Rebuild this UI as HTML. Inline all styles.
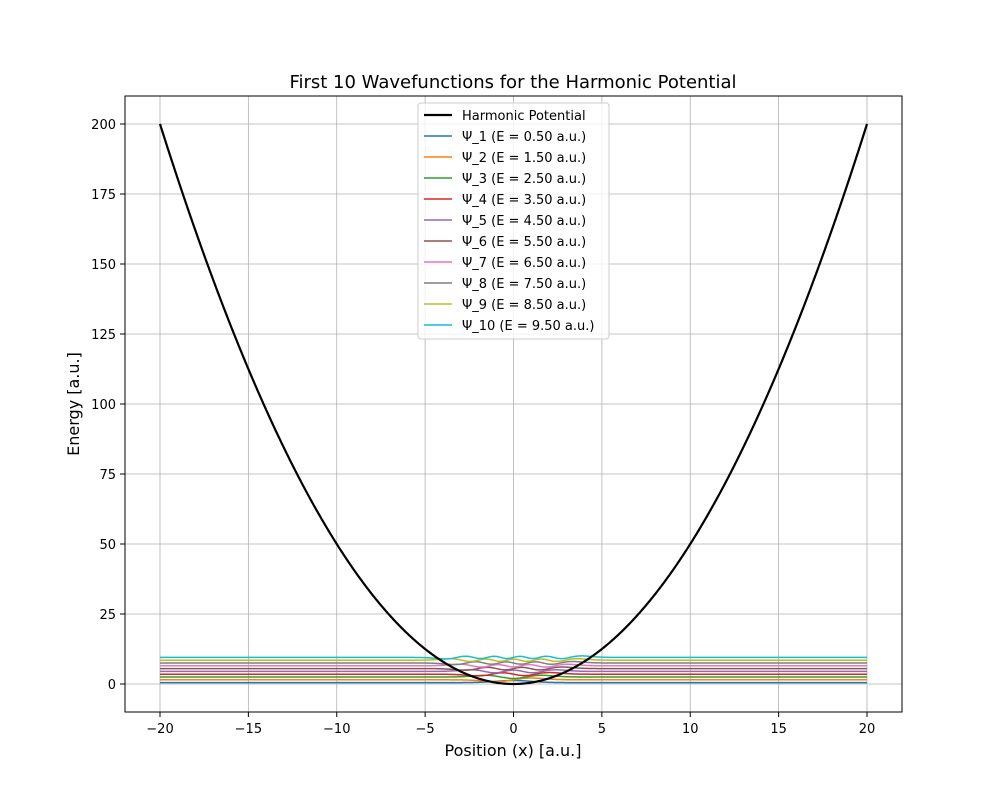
<!DOCTYPE html>
<html><head><meta charset="utf-8"><style>
body{margin:0;background:#fff;font-family:"Liberation Sans","DejaVu Sans",sans-serif}
text{font-family:"DejaVu Sans","Liberation Sans",sans-serif}
</style></head><body>
<svg id="chart" width="1002" height="800" xmlns="http://www.w3.org/2000/svg">
<rect width="1002" height="800" fill="#fff"/>
<text x="513" y="88" text-anchor="middle" font-size="18">First 10 Wavefunctions for the Harmonic Potential</text>
<g id="grid"></g><g id="plot"></g>
<rect x="125" y="96" width="777" height="616" fill="none" stroke="#000" stroke-width="1"/>
<g id="ticks"></g>
<text x="513" y="756" text-anchor="middle" font-size="16">Position (x) [a.u.]</text>
<text transform="translate(79,404) rotate(-90)" text-anchor="middle" font-size="16">Energy [a.u.]</text>
<g id="legend"></g>
</svg>
<script>
const xTicks=[-20,-15,-10,-5,0,5,10,15,20];
const yTicks=[0,25,50,75,100,125,150,175,200];
const energies=[0.5,1.5,2.5,3.5,4.5,5.5,6.5,7.5,8.5,9.5];
const labels=["Ψ_1 (E = 0.50 a.u.)","Ψ_2 (E = 1.50 a.u.)","Ψ_3 (E = 2.50 a.u.)","Ψ_4 (E = 3.50 a.u.)","Ψ_5 (E = 4.50 a.u.)","Ψ_6 (E = 5.50 a.u.)","Ψ_7 (E = 6.50 a.u.)","Ψ_8 (E = 7.50 a.u.)","Ψ_9 (E = 8.50 a.u.)","Ψ_10 (E = 9.50 a.u.)"];
const colors=["#1f77b4","#ff7f0e","#2ca02c","#d62728","#9467bd","#8c564b","#e377c2","#7f7f7f","#bcbd22","#17becf"];
const potentialCoef=0.5;
const xMin=-20,xMax=20;
const NS="http://www.w3.org/2000/svg";
const X=v=>160+(v+20)*(707/40);
const Y=v=>684-v*(560/200);
function mk(t,a,p){const e=document.createElementNS(NS,t);for(const k in a)e.setAttribute(k,a[k]);(p||document.getElementById('plot')).appendChild(e);return e;}
const grid=document.getElementById('grid'),ticks=document.getElementById('ticks');
xTicks.forEach(v=>{
 const g=mk('line',{x1:X(v),x2:X(v),y1:96,y2:712,stroke:'#b0b0b0','stroke-width':0.8},grid);
 
 
 mk('line',{x1:X(v),x2:X(v),y1:712,y2:717,stroke:'#000'},ticks);
 const t=mk('text',{x:X(v),y:733,'text-anchor':'middle','font-size':13},ticks);t.textContent=(v<0?'−'+(-v):v);
 
 
});
yTicks.forEach(v=>{
 const g=mk('line',{x1:125,x2:902,y1:Y(v),y2:Y(v),stroke:'#b0b0b0','stroke-width':0.8},grid);
 
 
 mk('line',{x1:120,x2:125,y1:Y(v),y2:Y(v),stroke:'#000'},ticks);
 const t=mk('text',{x:116,y:Y(v)+5,'text-anchor':'end','font-size':13},ticks);t.textContent=v;
 
 
});
function psi(n,x){let p0=Math.pow(Math.PI,-0.25)*Math.exp(-x*x/2);if(n===0)return p0;let p1=Math.SQRT2*x*p0;for(let k=2;k<=n;k++){const p2=Math.sqrt(2/k)*x*p1-Math.sqrt((k-1)/k)*p0;p0=p1;p1=p2;}return p1;}
const N=800;
energies.forEach((E,i)=>{let d='';for(let j=0;j<=N;j++){const x=xMin+(xMax-xMin)*j/N;d+=(j?'L':'M')+X(x).toFixed(2)+','+Y(E+psi(i,x)).toFixed(2);}
 const p=mk('path',{d:d,fill:'none',stroke:colors[i],'stroke-width':1.5});
 
 
});
let d='';for(let j=0;j<=N;j++){const x=xMin+(xMax-xMin)*j/N;d+=(j?'L':'M')+X(x).toFixed(2)+','+Y(potentialCoef*x*x).toFixed(2);}
const pot=mk('path',{d:d,fill:'none',stroke:'#000','stroke-width':2.2});


const lg=document.getElementById('legend');
const box=mk('rect',{x:418,y:103,width:191,height:236,rx:3,fill:'#fff','fill-opacity':0.8,stroke:'#ccc'},lg);


const entries=[{l:'Harmonic Potential',c:'#000',w:2.2}].concat(labels.map((l,i)=>({l:l,c:colors[i],w:1.5})));
entries.forEach((e,i)=>{const y=115+i*21;
 mk('line',{x1:424,x2:452,y1:y,y2:y,stroke:e.c,'stroke-width':e.w},lg);
 const t=mk('text',{x:462,y:y+5,'font-size':13},lg);t.textContent=e.l;
 
 
});
</script>
</body></html>
